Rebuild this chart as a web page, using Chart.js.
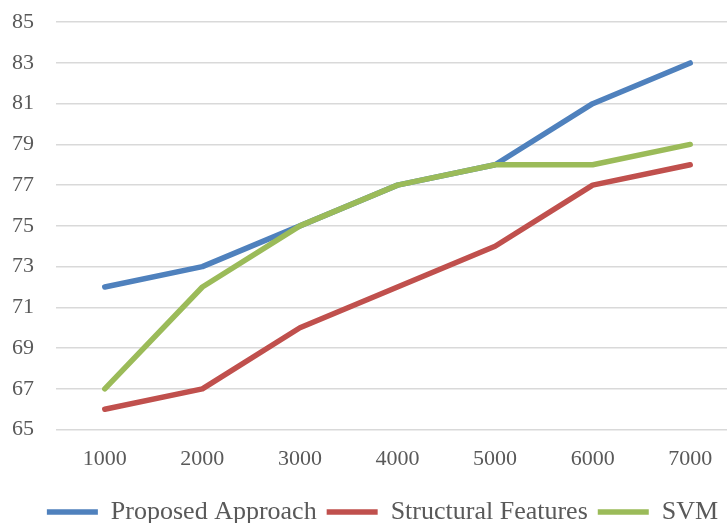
<!DOCTYPE html>
<html>
<head>
<meta charset="utf-8">
<script src="https://cdn.jsdelivr.net/npm/chart.js@4"></script>
<style>
  html, body { margin: 0; padding: 0; background: #fff; overflow: hidden; }
  #wrap { width: 768px; height: 535px; position: relative; }
</style>
</head>
<body>
<div id="wrap"><canvas id="c"></canvas></div>
<script>
// Training set sizes on the x axis
const categories = ['1000', '2000', '3000', '4000', '5000', '6000', '7000'];

// Accuracy (%) for each method
const proposedApproach   = [72, 73, 75, 77, 78, 81, 83];
const structuralFeatures = [66, 67, 70, 72, 74, 77, 78];
const svm                = [67, 72, 75, 77, 78, 78, 79];

const seriesNames = ['Proposed Approach', 'Structural Features', 'SVM'];
const seriesColors = ['#4F81BD', '#C0504D', '#9BBB59'];

// Y axis range and step
const yMin = 65, yMax = 85, yStep = 2;

const serif = '"Liberation Serif", "Times New Roman", serif';
const textColor = '#595959';

function lineSet(i, data, order) {
  return {
    label: seriesNames[i],
    data: data,
    borderColor: seriesColors[i],
    backgroundColor: seriesColors[i],
    borderWidth: 5.5,
    borderCapStyle: 'round',
    borderJoinStyle: 'round',
    pointRadius: 0,
    pointHoverRadius: 0,
    tension: 0,
    fill: false,
    order: order
  };
}

// Nudge the bottom legend a little to the right of the canvas centre
const legendShift = {
  id: 'legendShift',
  afterLayout(chart) {
    const lg = chart.legend;
    if (lg) { lg.left += 7; lg.right += 7; }
  }
};

new Chart(document.getElementById('c'), {
  type: 'line',
  data: {
    labels: categories,
    datasets: [
      lineSet(0, proposedApproach, 3),
      lineSet(1, structuralFeatures, 2),
      lineSet(2, svm, 1)
    ]
  },
  plugins: [legendShift],
  options: {
    responsive: true,
    maintainAspectRatio: false,
    animation: false,
    layout: { padding: { left: 12, right: 29, top: 0, bottom: 0 } },
    plugins: {
      tooltip: { enabled: false },
      legend: {
        position: 'bottom',
        labels: {
          usePointStyle: true,
          pointStyle: 'line',
          pointStyleWidth: 51,
          padding: 10,
          color: textColor,
          font: { family: serif, size: 26 },
          sort: (a, b) => a.datasetIndex - b.datasetIndex
        }
      }
    },
    scales: {
      x: {
        offset: true,
        grid: { display: false, drawTicks: false },
        border: { display: false },
        ticks: {
          padding: 16,
          color: textColor,
          font: { family: serif, size: 22 },
          maxRotation: 0
        },
        afterFit: (scale) => { scale.height += 1; }
      },
      y: {
        min: yMin,
        max: yMax,
        grid: { color: '#d9d9d9', lineWidth: 1.5, drawTicks: false },
        border: { display: false },
        ticks: {
          stepSize: yStep,
          padding: 9,
          crossAlign: 'far',
          color: textColor,
          font: { family: serif, size: 22 }
        },
        afterFit: (scale) => { scale.width = 44; }
      }
    }
  }
});
</script>
</body>
</html>
